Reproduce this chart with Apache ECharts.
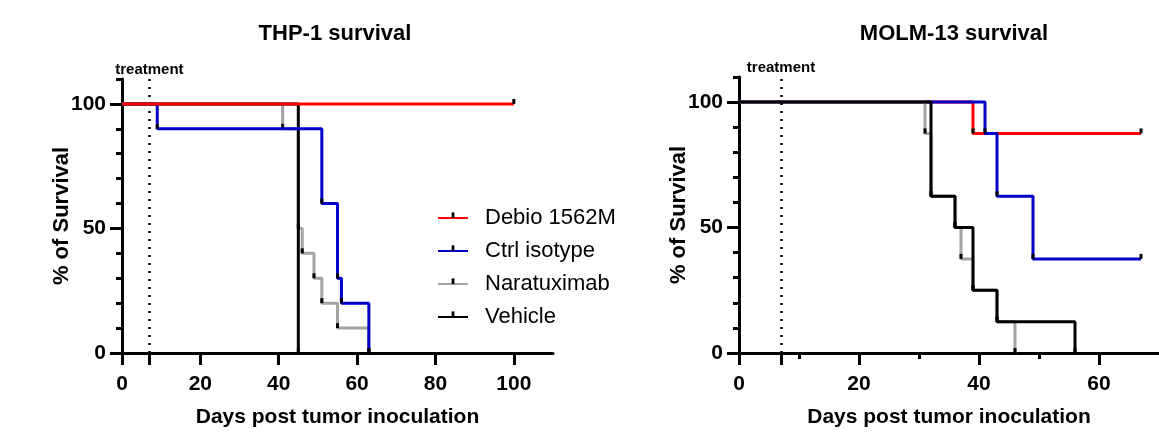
<!DOCTYPE html>
<html>
<head>
<meta charset="utf-8">
<script src="https://cdn.jsdelivr.net/npm/echarts@6/dist/echarts.min.js"></script>
<style>html,body{margin:0;padding:0;background:#fff}#main{width:1159px;height:433px}</style>
</head>
<body>
<div id="main"></div>
<script>
var groups = ['Debio 1562M', 'Ctrl isotype', 'Naratuximab', 'Vehicle'];
var colors = ['#ff0000', '#0000c8', '#a3a3a3', '#000000'];

// THP-1: [day, % survival] at each step
var thpDebio = [[0, 100], [100, 100]];
var thpCtrl = [[0, 100], [9, 90], [51, 60], [55, 30], [56, 20], [63, 0]];
var thpNara = [[0, 100], [41, 90], [45, 50], [46, 40], [49, 30], [51, 20], [55, 10], [63, 0]];
var thpVehicle = [[0, 100], [45, 0]];

// MOLM-13
var molmDebio = [[0, 100], [39, 87.5], [67, 87.5]];
var molmCtrl = [[0, 100], [41, 87.5], [43, 62.5], [49, 37.5], [67, 37.5]];
var molmNara = [[0, 100], [31, 87.5], [32, 62.5], [36, 50], [37, 37.5], [39, 25], [43, 12.5], [46, 0]];
var molmVehicle = [[0, 100], [32, 62.5], [36, 50], [39, 25], [43, 12.5], [56, 0]];

var treatmentDay = 7;
var thpXLabels = [0, 20, 40, 60, 80, 100];
var molmXLabels = [0, 20, 40, 60];
var molmXMinor = [10, 30, 50];
var yLabels = [0, 50, 100];

var font = 'Liberation Sans, Arial, sans-serif';
var tickMark = 'path://M0,2M4,0M1.5,0L2.5,0L2.5,1L1.5,1Z';
var chart = echarts.init(document.getElementById('main'));

function km(name, data, ci, xi, yi, z) {
    return {
        name: name, type: 'line', step: 'end',
        xAxisIndex: xi, yAxisIndex: yi, z: z,
        data: data.map(function(p, i) { return i === 0 ? {value: p, symbol: 'none'} : p; }),
        symbol: tickMark, symbolSize: [12, 10], showAllSymbol: true,
        itemStyle: {color: '#000'},
        lineStyle: {color: colors[ci], width: 3},
        emphasis: {disabled: true},
        animation: false
    };
}

function treatLine() {
    return {
        silent: true, symbol: 'none', animation: false,
        lineStyle: {type: [2, 6], width: 2.5, color: '#000'},
        label: {formatter: 'treatment', position: 'end', distance: 2, fontSize: 15, fontWeight: 'bold', color: '#000', fontFamily: font},
        data: [{xAxis: treatmentDay}]
    };
}

function xMain(grid, max, ticks, labels) {
    return {
        type: 'value', gridIndex: grid, min: 0, max: max, position: 'bottom',
        name: 'Days post tumor inoculation', nameLocation: 'middle', nameGap: 54,
        nameTextStyle: {fontSize: 21, fontWeight: 'bold', color: '#000', fontFamily: font},
        axisLine: {lineStyle: {color: '#000', width: 3}},
        axisTick: {customValues: ticks, length: 12, lineStyle: {width: 3, color: '#000'}},
        axisLabel: {customValues: labels, margin: 21, fontSize: 21, fontWeight: 'bold', color: '#000', fontFamily: font},
        splitLine: {show: false}
    };
}

function yMain(grid) {
    return {
        type: 'value', gridIndex: grid, min: 0, max: 110, position: 'left',
        name: '% of Survival', nameLocation: 'middle', nameGap: 49, nameMoveOverlap: false,
        nameTextStyle: {fontSize: 22, fontWeight: 'bold', color: '#000', fontFamily: font},
        axisLine: {lineStyle: {color: '#000', width: 3}},
        axisTick: {customValues: yLabels, length: 12, lineStyle: {width: 3, color: '#000'}},
        axisLabel: {customValues: yLabels, margin: 16, fontSize: 21, fontWeight: 'bold', color: '#000', fontFamily: font},
        splitLine: {show: false}
    };
}

function yMinor(grid) {
    return {
        type: 'value', gridIndex: grid, min: 0, max: 110, interval: 10, position: 'left',
        axisLine: {show: false},
        axisTick: {length: 6, lineStyle: {width: 3, color: '#000'}},
        axisLabel: {show: false}, splitLine: {show: false}
    };
}

var s = [
    km('Naratuximab', thpNara, 2, 0, 0, 2),
    km('Vehicle', thpVehicle, 3, 0, 0, 3),
    km('Ctrl isotype', thpCtrl, 1, 0, 0, 4),
    km('Debio 1562M', thpDebio, 0, 0, 0, 5),
    km('Debio 1562M', molmDebio, 0, 1, 2, 2),
    km('Ctrl isotype', molmCtrl, 1, 1, 2, 3),
    km('Naratuximab', molmNara, 2, 1, 2, 4),
    km('Vehicle', molmVehicle, 3, 1, 2, 5)
];
s[1].markLine = treatLine();
s[7].markLine = treatLine();

chart.setOption({
    animation: false,
    textStyle: {fontFamily: font},
    title: [
        {text: 'THP-1 survival', left: 335, top: 23, textAlign: 'center', padding: 0,
         textStyle: {fontSize: 22, fontWeight: 'bold', color: '#000', fontFamily: font}},
        {text: 'MOLM-13 survival', left: 954, top: 23, textAlign: 'center', padding: 0,
         textStyle: {fontSize: 22, fontWeight: 'bold', color: '#000', fontFamily: font}}
    ],
    legend: {
        data: groups, orient: 'vertical', left: 437, top: 207, padding: 0,
        itemWidth: 30, itemHeight: 14, itemGap: 11, selectedMode: false,
        textStyle: {fontSize: 22, color: '#000', fontFamily: font, lineHeight: 22, padding: [0, 0, 0, 12]}
    },
    grid: [
        {left: 122, right: 606, top: 79, bottom: 79},
        {left: 739, right: -10, top: 77, bottom: 79}
    ],
    xAxis: [
        xMain(0, 110, [0, treatmentDay].concat(thpXLabels.slice(1)), thpXLabels),
        xMain(1, 70, [0, treatmentDay].concat(molmXLabels.slice(1)), molmXLabels),
        {
            type: 'value', gridIndex: 1, min: 0, max: 70, position: 'bottom',
            axisLine: {show: false},
            axisTick: {customValues: molmXMinor, length: 6, lineStyle: {width: 3, color: '#000'}},
            axisLabel: {show: false}, splitLine: {show: false}
        }
    ],
    yAxis: [yMain(0), yMinor(0), yMain(1), yMinor(1)],
    series: s
});
</script>
</body>
</html>
